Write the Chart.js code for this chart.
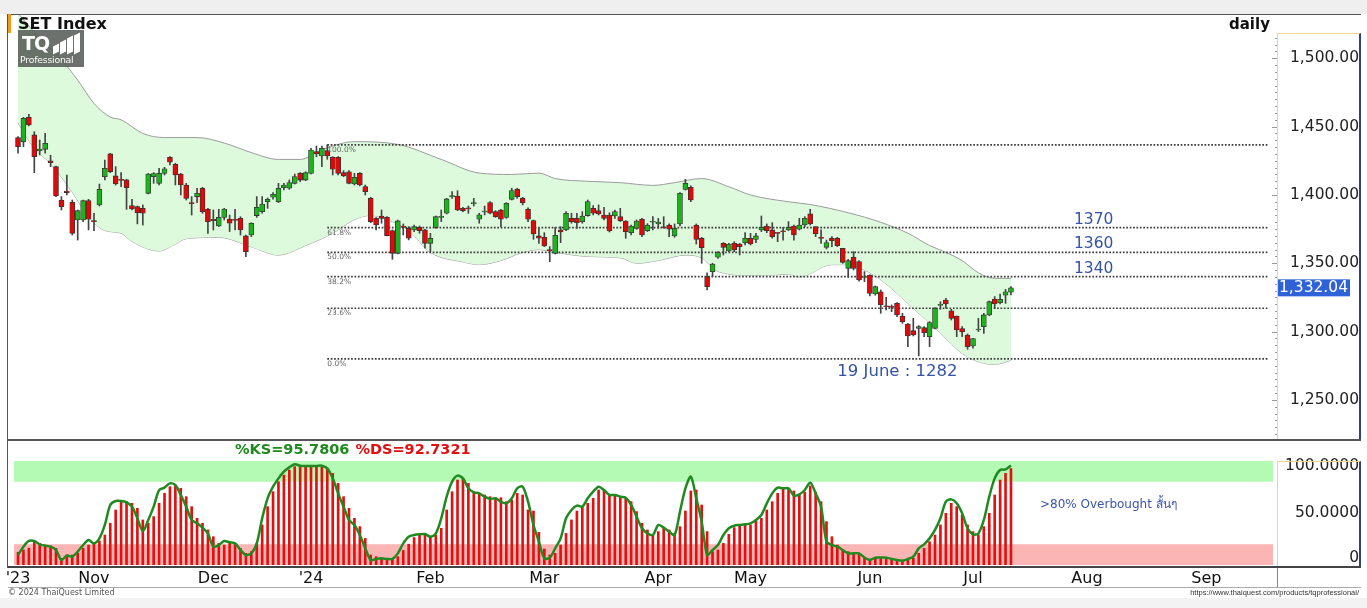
<!DOCTYPE html>
<html>
<head>
<meta charset="utf-8">
<title>SET Index daily</title>
<script src="https://cdn.jsdelivr.net/npm/chart.js@4/dist/chart.umd.min.js"></script>
<style>
  html, body { margin: 0; padding: 0; }
  body { width: 1367px; height: 608px; position: relative; overflow: hidden; background: #fff;
         font-family: "DejaVu Sans", Verdana, sans-serif; }
  .abs { position: absolute; }
  canvas { position: absolute; left: 0; }
  #strip { left: 0; top: 0; width: 1367px; height: 14px; background: #efefef; }
  #foot { left: 0; top: 598px; width: 1367px; height: 10px; background: #f3f3f3; }
  .ln { background: #555; }
  .ax { border-left: 1px solid #efd48a; border-top: 1px solid #efd48a; border-right: 2px solid #2d3f8e; box-sizing: border-box; }
  #title { left: 18px; top: 14px; font-weight: bold; font-size: 16px; color: #111; }
  #daily { left: 1229px; top: 15px; font-weight: bold; font-size: 15px; color: #111; }
  #logo { left: 18px; top: 30px; width: 66px; height: 37px; background: rgba(84,88,84,0.85); color: #fff; }
  #logo .tq { position: absolute; left: 4px; top: 2px; font: bold 19px "DejaVu Sans", sans-serif; letter-spacing: -1px; }
  #logo .bars { position: absolute; left: 35px; top: 3px; height: 20px; width: 28px; }
  #logo .bars i { position: absolute; bottom: 0; width: 6px; background: #fff; transform: skewY(-25deg); }
  #logo .pro { position: absolute; left: 2px; top: 24px; font-size: 9.3px; letter-spacing: -0.2px; }
  #copy { left: 8px; top: 588px; font-size: 8px; color: #555; }
  #url { right: 8px; top: 588px; font: 7.5px "Liberation Sans", Arial, sans-serif; color: #333; }
</style>
</head>
<body>
<div id="strip" class="abs"></div>
<canvas id="price" width="1367" height="441" style="top:0"></canvas>
<canvas id="stoch" width="1367" height="167" style="top:441px"></canvas>

<div class="abs ln" style="left:8px;top:14px;width:1353px;height:1px"></div>
<div class="abs ln" style="left:7px;top:14px;width:1px;height:554px"></div>
<div class="abs" style="left:8px;top:14px;width:3px;height:19px;background:#f39a1e"></div>
<div class="abs ln" style="left:8px;top:439px;width:1353px;height:2px"></div>
<div class="abs ln" style="left:8px;top:566px;width:1353px;height:2px;background:#444"></div>
<div class="abs" style="left:8px;top:587px;width:1353px;height:1px;background:#aaa"></div>
<div class="abs ax" style="left:1277px;top:33px;width:84px;height:406px"></div>
<div class="abs ax" style="left:1277px;top:461px;width:84px;height:105px"></div>
<div class="abs" style="left:1277px;top:568px;width:1px;height:19px;background:#888"></div>

<div id="title" class="abs">SET Index</div>
<div id="daily" class="abs">daily</div>
<div id="logo" class="abs">
  <span class="tq">TQ</span>
  <span class="bars"><i style="left:0;height:8px"></i><i style="left:7px;height:12px"></i><i style="left:14px;height:16px"></i><i style="left:21px;height:19px"></i></span>
  <span class="pro">Professional</span>
</div>
<div id="copy" class="abs">© 2024 ThaiQuest Limited</div>
<div id="url" class="abs">https://www.thaiquest.com/products/tqprofessional/</div>
<div id="foot" class="abs"></div>

<script>
// daily candles, one entry per trading day (Oct 2023 .. 12 Jul 2024)
const opens = [
  1441.9,1439.0,1456.8,1443.9,1432.2,1433.4,1424.9,1420.7,1396.3,1402.9,
  1394.6,1381.7,1381.7,1395.8,1381.2,1392.7,1413.4,1430.0,1413.9,1411.4,
  1411.0,1392.2,1391.4,1390.2,1401.2,1413.4,1408.5,1415.8,1427.5,1422.4,
  1415.3,1407.3,1394.4,1398.8,1404.9,1389.5,1382.2,1377.3,1383.6,1382.4,
  1381.9,1382.9,1370.0,1370.7,1384.9,1387.8,1395.1,1398.3,1395.1,1405.3,
  1404.9,1408.5,1415.8,1410.9,1415.8,1431.7,1428.5,1432.4,1427.5,1427.5,
  1416.3,1417.0,1408.0,1415.8,1406.1,1397.5,1382.9,1384.6,1383.6,1373.9,
  1357.3,1377.3,1375.6,1374.4,1376.3,1374.4,1364.6,1376.3,1383.6,1386.6,
  1398.8,1399.2,1390.2,1390.5,1393.6,1382.2,1387.5,1394.4,1387.8,1389.0,
  1383.6,1396.8,1404.1,1397.5,1389.5,1381.2,1370.0,1369.0,1359.8,1357.3,
  1374.4,1374.4,1382.9,1382.9,1380.5,1384.9,1390.2,1388.5,1385.3,1385.3,
  1384.6,1384.1,1380.9,1372.4,1375.6,1382.2,1373.9,1380.0,1378.8,1376.3,
  1378.0,1370.0,1378.8,1404.1,1405.6,1378.0,1368.3,1340.2,1343.9,1354.4,
  1364.6,1359.0,1364.6,1364.1,1365.1,1368.3,1367.5,1374.4,1377.3,1374.4,
  1372.0,1373.2,1374.4,1377.3,1374.9,1378.0,1386.1,1376.8,1368.5,1361.7,
  1368.3,1368.3,1360.9,1346.3,1354.4,1351.2,1339.6,1341.4,1327.5,1329.2,
  1318.3,1317.9,1320.7,1311.4,1305.6,1300.7,1302.4,1302.9,1296.3,1302.4,
  1319.2,1323.1,1315.3,1311.4,1302.2,1297.5,1289.5,1301.2,1303.6,1312.2,
  1323.9,1321.2,1326.6,1328.8
];
const highs = [
  1442.7,1456.8,1459.0,1446.3,1440.2,1445.1,1429.0,1421.2,1398.8,1414.6,
  1396.3,1389.0,1396.3,1396.8,1386.6,1408.0,1425.6,1430.5,1420.7,1416.3,
  1411.4,1396.8,1391.9,1392.7,1415.8,1416.3,1419.5,1420.2,1428.0,1423.2,
  1415.8,1408.5,1398.8,1404.9,1405.6,1390.2,1389.0,1389.5,1390.2,1385.3,
  1389.5,1384.1,1370.7,1379.7,1398.8,1398.8,1397.8,1401.7,1408.5,1408.5,
  1411.0,1415.3,1416.3,1417.0,1434.1,1435.8,1435.8,1436.8,1428.0,1428.0,
  1417.8,1417.8,1415.8,1416.3,1407.3,1398.3,1383.4,1389.0,1384.1,1374.4,
  1381.7,1378.8,1376.8,1378.0,1377.3,1374.9,1371.9,1384.6,1389.0,1397.5,
  1402.4,1403.1,1391.0,1391.9,1397.5,1386.6,1391.9,1395.1,1388.5,1389.5,
  1394.4,1404.9,1404.9,1398.3,1390.5,1381.7,1375.6,1372.4,1362.2,1376.3,
  1376.8,1387.8,1386.6,1386.6,1387.8,1396.3,1392.2,1392.7,1390.9,1387.0,
  1389.0,1390.2,1381.2,1378.0,1381.7,1382.9,1379.0,1384.1,1382.9,1384.1,
  1378.8,1378.8,1401.7,1411.4,1406.6,1378.8,1369.0,1343.1,1350.0,1358.5,
  1365.1,1364.6,1365.8,1364.6,1372.4,1371.9,1371.9,1384.6,1378.8,1379.7,
  1372.4,1376.3,1380.5,1378.0,1382.9,1384.1,1389.5,1376.8,1374.4,1367.0,
  1369.5,1369.0,1361.0,1352.9,1358.5,1352.0,1343.9,1341.6,1333.4,1330.5,
  1325.1,1319.5,1321.2,1313.4,1306.1,1309.7,1304.4,1303.6,1307.3,1317.5,
  1321.9,1324.4,1316.3,1311.4,1303.6,1298.3,1295.1,1309.7,1313.4,1322.4,
  1325.6,1327.5,1330.9,1332.9
];
const lows = [
  1430.5,1435.3,1450.5,1416.3,1429.2,1430.5,1420.7,1398.7,1389.0,1400.0,
  1370.7,1367.0,1380.5,1374.4,1373.9,1391.9,1411.0,1416.3,1407.3,1406.1,
  1389.5,1389.0,1378.8,1378.0,1400.7,1408.5,1407.3,1414.6,1421.9,1407.3,
  1400.0,1396.3,1385.3,1394.4,1386.6,1371.9,1374.4,1376.8,1381.7,1373.2,
  1374.4,1370.7,1354.9,1369.5,1383.6,1386.6,1390.2,1397.0,1394.4,1403.6,
  1404.1,1408.0,1409.7,1410.5,1415.4,1428.0,1420.7,1426.1,1414.6,1414.6,
  1413.4,1408.0,1407.3,1406.6,1400.0,1379.7,1374.4,1379.3,1370.0,1352.9,
  1356.8,1370.7,1367.1,1373.2,1372.0,1361.0,1358.5,1375.6,1380.5,1386.1,
  1397.5,1388.5,1387.8,1386.6,1391.9,1379.3,1385.4,1386.1,1383.6,1376.8,
  1382.9,1396.3,1397.5,1392.7,1380.5,1367.5,1364.6,1362.2,1351.2,1356.8,
  1365.1,1373.9,1379.3,1375.6,1379.3,1384.4,1385.4,1385.3,1381.7,1372.9,
  1382.9,1380.5,1368.3,1370.7,1374.9,1369.5,1373.2,1374.4,1375.6,1375.6,
  1369.5,1369.0,1377.3,1403.6,1395.1,1364.1,1350.0,1330.5,1340.2,1353.6,
  1356.1,1358.5,1358.5,1356.1,1363.4,1363.4,1365.1,1373.2,1372.4,1368.3,
  1365.8,1367.0,1373.9,1367.0,1374.4,1376.8,1378.0,1369.5,1364.6,1360.5,
  1362.2,1362.2,1350.0,1339.7,1345.1,1337.0,1336.6,1326.1,1326.6,1313.4,
  1315.8,1314.6,1311.0,1306.1,1289.0,1296.8,1282.2,1296.3,1289.0,1301.9,
  1316.3,1317.1,1308.5,1296.3,1296.3,1287.1,1287.8,1300.0,1298.7,1311.6,
  1317.1,1320.2,1320.7,1326.8
];
const closes = [
  1435.3,1456.1,1451.2,1428.0,1433.6,1437.8,1423.6,1399.2,1391.4,1401.7,
  1371.9,1388.5,1395.8,1382.2,1380.5,1404.1,1419.5,1417.0,1408.0,1410.7,
  1405.3,1389.7,1387.0,1386.6,1415.3,1415.6,1415.8,1419.2,1423.9,1414.6,
  1407.3,1397.5,1393.6,1401.2,1387.8,1380.5,1381.2,1383.6,1389.7,1379.3,
  1381.4,1374.4,1358.5,1379.3,1390.9,1393.4,1396.8,1400.5,1404.9,1407.3,
  1409.0,1413.4,1410.9,1416.3,1432.9,1430.0,1434.1,1428.5,1418.8,1415.8,
  1413.9,1408.5,1412.9,1407.3,1402.4,1380.5,1378.0,1382.9,1370.2,1357.3,
  1381.0,1376.3,1368.3,1376.8,1373.9,1364.6,1368.3,1384.1,1384.4,1397.1,
  1399.5,1389.0,1388.5,1389.7,1394.1,1385.4,1388.0,1386.6,1384.1,1382.2,
  1393.9,1403.2,1398.8,1394.4,1382.2,1371.4,1368.3,1362.7,1359.3,1370.5,
  1372.9,1386.6,1380.5,1379.7,1384.6,1395.1,1386.6,1386.1,1382.9,1373.6,
  1387.8,1381.2,1373.1,1377.3,1380.9,1370.7,1378.0,1380.3,1380.2,1376.0,
  1374.9,1375.6,1401.2,1408.5,1396.3,1367.5,1361.4,1332.9,1349.5,1357.8,
  1361.7,1364.1,1359.7,1362.2,1368.3,1364.1,1370.0,1376.3,1373.9,1369.5,
  1371.9,1373.1,1376.3,1370.7,1378.0,1382.9,1378.8,1371.4,1368.2,1365.1,
  1366.6,1362.9,1350.7,1351.9,1346.3,1337.8,1339.7,1328.0,1332.9,1319.5,
  1318.2,1317.7,1312.2,1307.3,1296.8,1297.5,1303.6,1299.2,1306.6,1317.1,
  1319.5,1320.2,1309.7,1301.2,1299.7,1289.0,1294.9,1301.4,1312.2,1321.9,
  1320.2,1323.6,1329.2,1332.04
];

// Bollinger bands, read at sample days (day index, level)
const upperIdx = [0,3,8,11,14,17,19,23,27,33,38,43,48,52,56,62,70,78,85,91,96,99,105,111,117,121,126,131,135,142,146,153,159,164,168,171,174,177,180,183];
const upperVal = [1533,1519,1499,1484,1467,1457,1455,1445,1442,1442,1438,1431,1426,1426,1433,1439,1437,1426,1416,1415,1416,1412,1410,1409,1407,1409,1412,1406,1400,1395,1393,1387,1380,1372,1363,1358,1352,1343,1339,1339];
const midIdx = [0,5,8,11,14,16,21,26,31,37,43,48,51,57,61,64,69,73,77,82,86,91,96,99,105,111,117,122,124,129,136,142,146,153,159,165,170,175,179,183];
const midVal = [1490,1472,1457,1439,1426,1416,1407,1400,1404,1400,1395,1391,1390,1395,1404,1412,1409,1399,1389,1383,1382,1385,1388,1384,1382,1381,1380,1382,1383,1377,1371,1369,1370,1367,1358,1340,1325,1314,1307,1310];
const lowerIdx = [0,3,6,10,13,16,19,21,26,29,31,37,43,48,53,58,62,65,68,72,76,82,85,89,93,96,99,105,111,114,118,123,126,129,136,142,144,150,153,156,159,165,170,174,177,180,183];
const lowerVal = [1453,1434,1423,1402,1384,1374,1372,1366,1359,1364,1368,1369,1362,1356,1363,1372,1382,1385,1382,1374,1358,1351,1349,1352,1358,1360,1358,1355,1354,1350,1352,1356,1354,1344,1341,1342,1340,1349,1349,1345,1338,1317,1299,1284,1278,1276,1279];

// Fibonacci retracement from the 1437 high to the 19 June low
const fibLevels = [1436.6, 1376.1, 1358.0, 1340.2, 1317.1, 1280.0];
const fibLabels = ["100.0%", "61.8%", "50.0%", "38.2%", "23.6%", "0.0%"];
const fibStart = 57;
const fibEnd = 230.4;
const levelNotes = ["1370", "1360", "1340"];
const levelNoteFib = [1, 2, 3];
const levelNoteIdx = 194.6;
const lowNote = "19 June : 1282";
const lowNoteIdx = 151;

// slow stochastic
const dsVals = [
  12.2,14.4,16.0,21.8,20.8,19.2,18.3,16.0,6.4,9.6,
  9.6,11.2,16.0,19.2,20.8,23.1,28.8,40.1,52.9,60.9,
  60.9,59.3,54.5,43.3,40.1,46.5,59.3,68.9,75.3,76.9,
  73.7,65.7,56.1,44.9,40.1,33.7,27.2,20.8,19.2,21.8,
  20.8,16.0,11.2,12.8,20.8,38.5,56.1,70.5,80.1,86.5,
  91.3,94.6,95.5,95.2,94.9,95.2,94.6,92.9,88.1,78.5,
  65.7,54.5,44.9,36.9,25.6,9.6,8.0,6.4,6.4,5.8,
  8.0,14.0,20.0,26.4,28.8,28.8,27.2,28.8,35.3,52.9,
  70.5,81.7,83.3,78.5,70.5,68.9,67.3,65.7,64.7,64.7,
  60.9,62.5,68.9,67.3,52.9,51.9,31.4,15.4,9.6,11.2,
  19.2,30.4,43.3,51.9,56.1,59.3,64.1,72.1,72.1,67.3,
  67.3,65.7,64.1,60.9,51.3,40.1,33.7,28.8,32.1,35.3,
  33.7,30.4,36.9,51.9,71.2,72.1,57.7,32.1,12.8,14.4,
  20.8,29.5,35.9,38.5,38.5,38.5,42.3,44.9,52.9,60.9,
  68.9,73.7,73.1,71.2,67.3,70.0,76.0,70.0,60.9,41.7,
  27.2,19.2,13.5,12.8,11.2,11.2,6.4,5.8,7.1,7.1,
  7.1,5.8,4.8,4.8,5.4,6.4,11.2,16.0,22.4,28.8,
  38.5,49.7,59.3,56.1,48.1,38.5,32.1,28.8,36.9,49.7,
  67.3,81.7,88.1,92.7321
];
const ksVals = [
  9.6,17.6,23.1,23.1,19.9,18.6,17.6,14.4,4.8,9.0,
  8.0,12.8,19.2,24.0,20.8,25.6,38.5,57.7,61.5,61.5,
  60.3,56.1,44.9,32.7,43.3,56.1,72.1,74.4,78.5,76.9,
  67.3,56.1,43.3,40.1,35.9,30.4,17.6,19.2,23.1,21.8,
  20.8,14.4,9.6,11.2,20.8,44.9,64.1,75.3,83.3,89.7,
  93.9,96.8,95.5,95.2,95.2,95.2,95.5,92.9,83.3,68.9,
  56.1,43.3,38.5,28.8,16.0,4.8,5.8,6.4,5.8,5.8,
  11.2,20.8,27.2,28.8,29.5,29.8,27.2,30.4,44.9,65.7,
  80.1,85.9,83.3,73.7,69.9,68.9,65.7,63.5,64.1,60.9,
  59.3,64.1,73.7,75.3,60.9,38.5,22.4,6.4,7.1,16.0,
  25.6,44.9,52.9,57.1,56.1,64.1,70.5,75.3,72.1,67.3,
  67.3,65.7,64.7,57.7,46.5,35.3,30.4,28.8,38.5,35.9,
  32.1,28.8,51.3,73.7,84.9,64.1,41.7,9.6,14.4,19.2,
  28.8,35.3,37.8,38.5,39.1,40.1,43.3,48.1,59.3,68.9,
  74.4,73.7,73.7,66.7,67.9,72.1,79.2,69.0,56.1,22.4,
  19.2,17.6,14.4,11.2,11.2,11.2,7.1,4.8,7.1,7.1,
  7.1,5.8,4.8,4.2,5.8,8.0,16.0,19.9,25.6,33.7,
  44.9,60.9,63.1,59.3,49.7,35.3,29.5,30.4,43.3,65.7,
  83.3,91.3,91.9,95.7806
];
const obLevels = [80, 100];
const osLevels = [0, 20];
const obNote = ">80% Overbought สั้นๆ";

// axes
const monthIdx = [0, 14, 36, 54, 76, 97, 118, 135, 157, 176, 197, 219];
const monthLabels = ["'23", "Nov", "Dec", "'24", "Feb", "Mar", "Apr", "May", "Jun", "Jul", "Aug", "Sep"];
const priceTicks = [1250, 1300, 1350, 1400, 1450, 1500];
const stochTicks = [100, 50, 0];
const stochTickLabels = ["100.0000", "50.0000", "0"];

const X_MIN = -0.74;
const X_MAX = 232.03;
const FONT = '"DejaVu Sans", Verdana, sans-serif';
const UP = "#1db31d";
const DOWN = "#e00808";

Chart.defaults.font.family = FONT;
Chart.defaults.animation = false;
Chart.defaults.events = [];
Chart.defaults.plugins.legend.display = false;
Chart.defaults.plugins.tooltip.enabled = false;

function pts(idx, vals) {
    return idx.map(function (v, k) { return { x: v, y: vals[k] }; });
}

function fmtPrice(v) {
    return v.toLocaleString("en-US", { minimumFractionDigits: 2, maximumFractionDigits: 2 });
}

const priceOverlay = {
    id: "priceOverlay",
    afterDatasetsDraw: function (chart) {
        const ctx = chart.ctx;
        const x = chart.scales.x;
        const y = chart.scales.y;
        ctx.save();
        ctx.textBaseline = "middle";
        ctx.textAlign = "left";
        ctx.font = "7.5px " + FONT;
        ctx.fillStyle = "#666";
        fibLevels.forEach(function (lv, k) {
            ctx.fillText(fibLabels[k], x.getPixelForValue(fibStart), y.getPixelForValue(lv) + 5);
        });
        ctx.font = "15.5px " + FONT;
        ctx.fillStyle = "#3552a6";
        levelNotes.forEach(function (t, k) {
            ctx.fillText(t, x.getPixelForValue(levelNoteIdx), y.getPixelForValue(fibLevels[levelNoteFib[k]]) - 8);
        });
        ctx.font = "16.5px " + FONT;
        ctx.fillText(lowNote, x.getPixelForValue(lowNoteIdx), y.getPixelForValue(fibLevels[5]) + 13);
        ctx.restore();
    },
    afterDraw: function (chart) {
        const ctx = chart.ctx;
        const y = chart.scales.y;
        const area = chart.chartArea;
        ctx.save();
        // axis tick marks
        ctx.strokeStyle = "#9a9a9a";
        ctx.lineWidth = 1;
        for (let v = 1225; v <= 1530; v += 5) {
            const py = Math.round(y.getPixelForValue(v)) + 0.5;
            if (py < 36 || py > area.bottom) continue;
            ctx.beginPath();
            ctx.moveTo(area.right - (v % 50 === 0 ? 5 : 2), py);
            ctx.lineTo(area.right, py);
            ctx.stroke();
        }
        ctx.font = "15.5px " + FONT;
        ctx.fillStyle = "#222";
        ctx.textAlign = "right";
        ctx.textBaseline = "middle";
        priceTicks.forEach(function (v) {
            ctx.fillText(fmtPrice(v), 1359, y.getPixelForValue(v));
        });
        // last close marker
        const last = closes[closes.length - 1];
        const py = y.getPixelForValue(last);
        ctx.fillStyle = "#2f62d8";
        ctx.fillRect(area.right + 1, py - 8.5, 72, 17);
        ctx.fillStyle = "#fff";
        ctx.textAlign = "left";
        ctx.fillText(fmtPrice(last), area.right + 2, py);
        ctx.restore();
    }
};

const stochOverlay = {
    id: "stochOverlay",
    afterDraw: function (chart) {
        const ctx = chart.ctx;
        const y = chart.scales.y;
        const area = chart.chartArea;
        ctx.save();
        ctx.textBaseline = "middle";
        ctx.textAlign = "left";
        ctx.font = "bold 14.5px " + FONT;
        const ksText = "%KS=" + ksVals[ksVals.length - 1].toFixed(4);
        ctx.fillStyle = "#1e8a1e";
        ctx.fillText(ksText, 235, 9);
        ctx.fillStyle = "#e01010";
        ctx.fillText("%DS=" + dsVals[dsVals.length - 1].toFixed(4), 235 + ctx.measureText(ksText).width + 6, 9);
        ctx.font = "12px " + FONT;
        ctx.fillStyle = "#3a56ad";
        ctx.fillText(obNote, 1040, 64);
        ctx.font = "15.5px " + FONT;
        ctx.fillStyle = "#222";
        ctx.textAlign = "right";
        stochTicks.forEach(function (v, k) {
            const py = Math.min(Math.max(y.getPixelForValue(v), area.top + 5), area.bottom - 7);
            ctx.fillText(stochTickLabels[k], 1359, py);
        });
        ctx.restore();
    }
};

const bodies = opens.map(function (o, i) { return { x: i, y: [o, closes[i]] }; });
const wicks = lows.map(function (l, i) { return { x: i, y: [l, highs[i]] }; });
const bodyColors = opens.map(function (o, i) { return closes[i] >= o ? UP : DOWN; });

const bandLine = { type: "line", borderColor: "#9b9b9b", borderWidth: 1, pointRadius: 0,
                   cubicInterpolationMode: "monotone", order: 10 };

const fibSets = fibLevels.map(function (lv) {
    return {
        type: "line",
        data: [{ x: fibStart, y: lv }, { x: fibEnd, y: lv }],
        borderColor: "#3c3c3c",
        borderWidth: 1.7,
        borderDash: [1.7, 1.7],
        pointRadius: 0,
        order: 6
    };
});

new Chart(document.getElementById("price"), {
    type: "bar",
    data: {
        datasets: [
            Object.assign({}, bandLine, { data: pts(upperIdx, upperVal), fill: { target: 2 }, backgroundColor: "#ddfadd" }),
            Object.assign({}, bandLine, { data: pts(midIdx, midVal), fill: false }),
            Object.assign({}, bandLine, { data: pts(lowerIdx, lowerVal), fill: false }),
            {
                type: "bar", data: wicks, backgroundColor: "#444", barThickness: 1,
                grouped: false, order: 3
            },
            {
                type: "bar", data: bodies, backgroundColor: bodyColors, borderColor: "#333",
                borderWidth: 0.8, borderSkipped: false, barThickness: 5, minBarLength: 1,
                grouped: false, order: 2
            }
        ].concat(fibSets)
    },
    options: {
        responsive: false,
        layout: { padding: { left: 14, right: 90, top: 14, bottom: 1 } },
        scales: {
            x: { type: "linear", min: X_MIN, max: X_MAX, offset: false, display: false },
            y: { type: "linear", min: 1220.7, max: 1532.4, display: false }
        }
    },
    plugins: [priceOverlay]
});

function flat(v) {
    return [{ x: X_MIN, y: v }, { x: 231.3, y: v }];
}

const zoneLine = { type: "line", borderWidth: 0, borderColor: "transparent", pointRadius: 0, order: 9 };

new Chart(document.getElementById("stoch"), {
    type: "bar",
    data: {
        datasets: [
            Object.assign({}, zoneLine, { data: flat(obLevels[1]), fill: { target: 1 }, backgroundColor: "#b4f9b4" }),
            Object.assign({}, zoneLine, { data: flat(obLevels[0]), fill: false }),
            Object.assign({}, zoneLine, { data: flat(osLevels[1]), fill: { value: osLevels[0] }, backgroundColor: "#fcb5b5" }),
            {
                type: "bar", label: "%DS",
                data: dsVals.map(function (v, i) { return { x: i, y: v }; }),
                backgroundColor: "#e41010", barThickness: 2, grouped: false, order: 2
            },
            {
                type: "line", label: "%KS",
                data: ksVals.map(function (v, i) { return { x: i, y: v }; }),
                borderColor: "#1f8a1f", borderWidth: 2.5, pointRadius: 0, tension: 0.3, order: 1
            }
        ]
    },
    options: {
        responsive: false,
        layout: { padding: { left: 14, right: 90, top: 20, bottom: 21 } },
        scales: {
            x: {
                type: "linear", min: X_MIN, max: X_MAX, offset: false,
                afterBuildTicks: function (s) { s.ticks = monthIdx.map(function (v) { return { value: v }; }); },
                afterFit: function (s) { s.height = 22; },
                grid: { display: false, drawTicks: false },
                border: { display: false },
                ticks: {
                    autoSkip: false, maxRotation: 0, padding: 4, color: "#111",
                    font: { size: 16, family: FONT },
                    callback: function (v, i) { return monthLabels[i]; }
                }
            },
            y: { type: "linear", min: 0, max: 100, display: false }
        }
    },
    plugins: [stochOverlay]
});
</script>
</body>
</html>
